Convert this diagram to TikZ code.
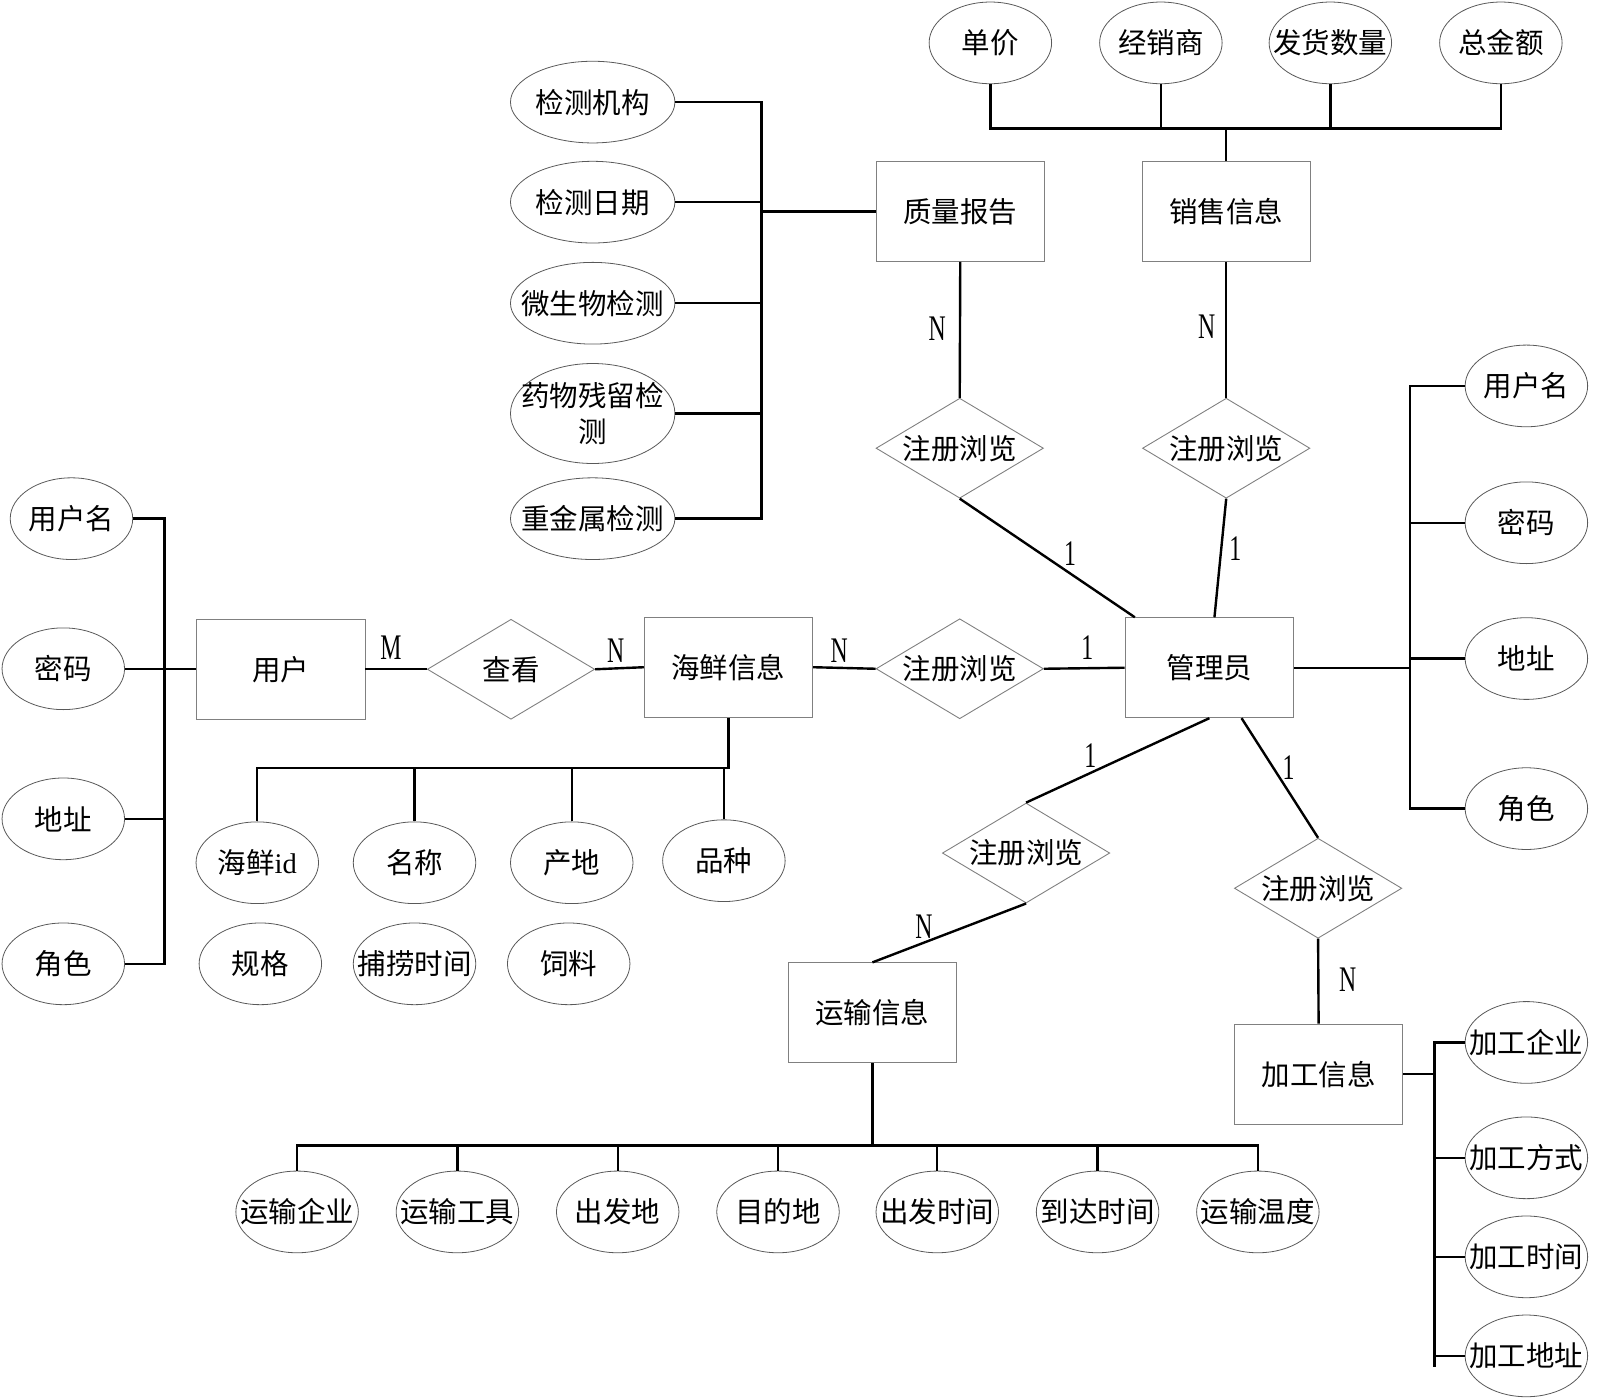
\documentclass[tikz,border=0pt]{standalone}
\usepackage{fontspec}
\setmainfont{Liberation Serif}
\newfontfamily\cjk{Noto Sans CJK SC}
\usetikzlibrary{shapes.geometric,calc}
\definecolor{edgegray}{gray}{0.5}
\definecolor{ellgray}{gray}{0.35}
\begin{document}
\begin{tikzpicture}[x=1.021pt,y=-1.021pt,
 font=\cjk\fontsize{28.5}{35.7}\selectfont,
 every label/.style={inner sep=0pt, font=\cjk\fontsize{28.5}{35.7}\selectfont},
 entity/.style={rectangle, draw=edgegray, line width=0.9pt, minimum width=168.5pt, minimum height=100pt, inner sep=0pt},
 rel/.style={diamond, draw=edgegray, line width=0.9pt, aspect=1.67, minimum width=167.4pt, minimum height=100pt, inner sep=0pt},
 attr/.style={ellipse, draw=ellgray, line width=0.8pt, minimum width=122.5pt, minimum height=81.7pt, inner sep=0pt},
 wideattr/.style={attr, minimum width=164.4pt},
 card/.style={font=\rmfamily\fontsize{36}{36}\selectfont, xscale=0.66, inner sep=0pt},
 conn/.style={line width=2.4pt}
]
\useasboundingbox (0,0) rectangle (1567.1,1370.2);

% ---------- entities ----------
\node[entity] (qual) at (940.5,207) {质量报告};
\node[entity] (sales) at (1201,207) {销售信息};
\node[entity] (admin) at (1184.5,654) {管理员};
\node[entity] (user) at (275,655.5) {用户};
\node[entity] (sea) at (713.5,653.5) {海鲜信息};
\node[entity] (trans) at (854.5,992) {运输信息};
\node[entity] (proc) at (1291.5,1052) {加工信息};

% ---------- relationships ----------
\node[rel] (rq) at (940,439) {注册浏览};
\node[rel] (rs) at (1201,439) {注册浏览};
\node[rel] (reg1) at (940,655) {注册浏览};
\node[rel] (look) at (500.5,655.5) {查看};
\node[rel] (rt) at (1005,835.5) {注册浏览};
\node[rel] (rp) at (1291,870) {注册浏览};

% ---------- sales attributes ----------
\node[attr, label={center:单价}] (t1) at (970,42) {};
\node[attr, label={center:经销商}] (t2) at (1137,42) {};
\node[attr, label={center:发货数量}] (t3) at (1303,42) {};
\node[attr, label={center:总金额}] (t4) at (1470,42) {};

% ---------- quality attributes ----------
\node[wideattr, label={center:检测机构}] (q1) at (580.5,100) {};
\node[wideattr, label={center:检测日期}] (q2) at (580.5,198) {};
\node[wideattr, label={center:微生物检测}] (q3) at (580.5,297) {};
\node[wideattr, minimum height=100pt, label={[align=center]center:药物残留检\\测}] (q4) at (580.5,405) {};
\node[wideattr, label={center:重金属检测}] (q5) at (580.5,508) {};

% ---------- user attributes ----------
\node[attr, label={center:用户名}] (ua1) at (70,508) {};
\node[attr, label={center:密码}] (ua2) at (62,655) {};
\node[attr, label={center:地址}] (ua3) at (62,802) {};
\node[attr, label={center:角色}] (ua4) at (62,944) {};

% ---------- seafood attributes ----------
\node[attr, label={center:海鲜{\rmfamily id}}] (sa1) at (252,845) {};
\node[attr, label={center:名称}] (sa2) at (406,845) {};
\node[attr, label={center:产地}] (sa3) at (560,845) {};
\node[attr, label={center:品种}] (sa4) at (709,843) {};
\node[attr, label={center:规格}] (sb1) at (255,944) {};
\node[attr, label={center:捕捞时间}] (sb2) at (406,944) {};
\node[attr, label={center:饲料}] (sb3) at (557,944) {};

% ---------- admin attributes ----------
\node[attr, label={center:用户名}] (aa1) at (1495,378) {};
\node[attr, label={center:密码}] (aa2) at (1495,512) {};
\node[attr, label={center:地址}] (aa3) at (1495,645) {};
\node[attr, label={center:角色}] (aa4) at (1495,792) {};

% ---------- transport attributes ----------
\node[attr, label={center:运输企业}] (tr1) at (291,1187) {};
\node[attr, label={center:运输工具}] (tr2) at (448,1187) {};
\node[attr, label={center:出发地}] (tr3) at (605,1187) {};
\node[attr, label={center:目的地}] (tr4) at (762,1187) {};
\node[attr, label={center:出发时间}] (tr5) at (918,1187) {};
\node[attr, label={center:到达时间}] (tr6) at (1075,1187) {};
\node[attr, label={center:运输温度}] (tr7) at (1232,1187) {};

% ---------- processing attributes ----------
\node[attr, label={center:加工企业}] (pa1) at (1495,1021) {};
\node[attr, label={center:加工方式}] (pa2) at (1495,1134) {};
\node[attr, label={center:加工时间}] (pa3) at (1495,1231) {};
\node[attr, label={center:加工地址}] (pa4) at (1495,1328) {};

% ---------- bus coordinates ----------
\coordinate (tb1) at (970,126);
\coordinate (tb4) at (1470,126);
\coordinate (qb1) at (746,100);
\coordinate (qb5) at (746,508);
\coordinate (ub1) at (161,508);
\coordinate (ub4) at (161,944);
\coordinate (sbl) at (252,752);
\coordinate (sbr) at (713.5,752);
\coordinate (ab1) at (1381,378);
\coordinate (ab4) at (1381,792);
\coordinate (trl) at (291,1122);
\coordinate (trr) at (1232,1122);
\coordinate (pb1) at (1405,1021);
\coordinate (pb4) at (1405,1339);

% ---------- connectors ----------
% sales attributes
\draw[conn] (t1.south) -- (tb1) -- (tb4) -- (t4.south);
\draw[conn] (t2.south) -- (t2.south |- tb1);
\draw[conn] (t3.south) -- (t3.south |- tb1);
\draw[conn] (sales.north) -- (sales.north |- tb1);
% quality attributes
\draw[conn] (q1.east) -- (qb1) -- (qb5) -- (q5.east);
\draw[conn] (q2.east) -- (q2.east -| qb1);
\draw[conn] (q3.east) -- (q3.east -| qb1);
\draw[conn] (q4.east) -- (q4.east -| qb1);
\draw[conn] (qual.west) -- (qual.west -| qb1);
% quality / sales to admin
\draw[conn] (qual.south) -- (rq.north);
\draw[conn] (rq.south) -- ($(admin.north west)!0.06!(admin.north east)$);
\draw[conn] (sales.south) -- (rs.north);
\draw[conn] (rs.south) -- ($(admin.north west)!0.53!(admin.north east)$);
% admin attributes
\draw[conn] (aa1.west) -- (ab1) -- (ab4) -- (aa4.west);
\draw[conn] (aa2.west) -- (aa2.west -| ab1);
\draw[conn] (aa3.west) -- (aa3.west -| ab1);
\draw[conn] (admin.east) -- (admin.east -| ab1);
% user attributes
\draw[conn] (ua1.east) -- (ub1) -- (ub4) -- (ua4.east);
\draw[conn] (ua2.east) -- (ua2.east -| ub1);
\draw[conn] (ua3.east) -- (ua3.east -| ub1);
\draw[conn] (user.west) -- (user.west -| ub1);
% main chain
\draw[conn] (user.east) -- (look.west);
\draw[conn] (look.east) -- (sea.west);
\draw[conn] (sea.east) -- (reg1.west);
\draw[conn] (reg1.east) -- (admin.west);
% seafood attributes
\draw[conn] (sea.south) -- (sbr) -- (sbl) -- (sa1.north);
\draw[conn] (sa2.north) -- (sa2.north |- sbl);
\draw[conn] (sa3.north) -- (sa3.north |- sbl);
\draw[conn] (sa4.north) -- (sa4.north |- sbl);
% transport
\draw[conn] ($(admin.south west)!0.5!(admin.south east)$) -- (rt.north);
\draw[conn] (rt.south) -- (trans.north);
\draw[conn] (trans.south) -- (trans.south |- trl);
\draw[conn] (tr1.north) -- (trl) -- (trr) -- (tr7.north);
\draw[conn] (tr2.north) -- (tr2.north |- trl);
\draw[conn] (tr3.north) -- (tr3.north |- trl);
\draw[conn] (tr4.north) -- (tr4.north |- trl);
\draw[conn] (tr5.north) -- (tr5.north |- trl);
\draw[conn] (tr6.north) -- (tr6.north |- trl);
% processing
\draw[conn] ($(admin.south west)!0.69!(admin.south east)$) -- (rp.north);
\draw[conn] (rp.south) -- (proc.north);
\draw[conn] (pa1.west) -- (pb1) -- (pb4);
\draw[conn] (pa2.west) -- (pa2.west -| pb1);
\draw[conn] (pa3.west) -- (pa3.west -| pb1);
\draw[conn] (pa4.west) -- (pa4.west -| pb1);
\draw[conn] (proc.east) -- (proc.east -| pb1);

% ---------- cardinalities ----------
\node[card] (c1) at (918,322) {N};
\node[card] (c2) at (1182,320) {N};
\node[card] (c3) at (1048,542) {1};
\node[card] (c4) at (1210,537) {1};
\node[card] (c5) at (383,634) {M};
\node[card] (c6) at (603,637) {N};
\node[card] (c7) at (822,637) {N};
\node[card] (c8) at (1065,634) {1};
\node[card] (c9) at (1068,740) {1};
\node[card] (c10) at (1262,752) {1};
\node[card] (c11) at (905,908) {N};
\node[card] (c12) at (1320,960) {N};
\end{tikzpicture}
\end{document}
